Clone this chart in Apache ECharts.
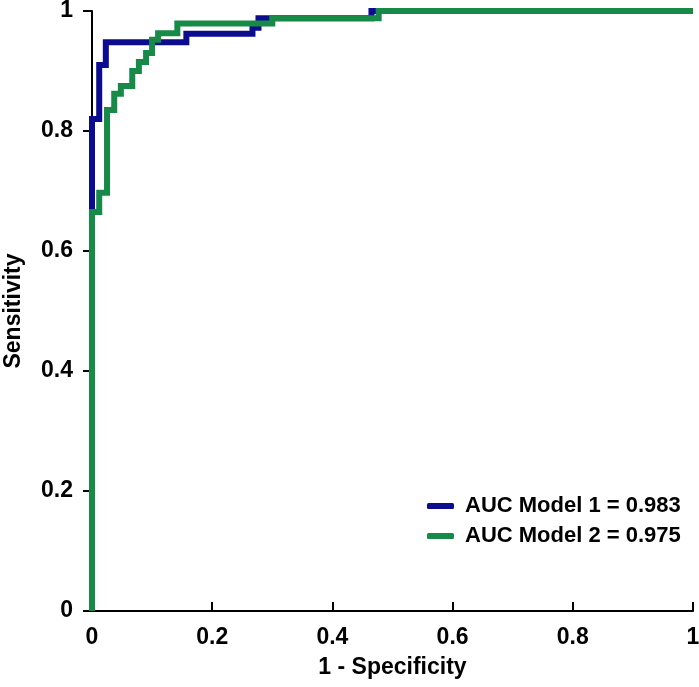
<!DOCTYPE html>
<html>
<head>
<meta charset="utf-8">
<script src="https://cdn.jsdelivr.net/npm/echarts@6/dist/echarts.min.js"></script>
<style>
  html, body { margin: 0; padding: 0; background: #fff; }
  #chart { width: 699px; height: 687px; }
</style>
</head>
<body>
<div id="chart"></div>
<script>
// ROC curve points (1 - specificity, sensitivity)
const model1Name = 'AUC Model 1 = 0.983'
const model1Fpr = [0, 0, 0.012, 0.023, 0.157, 0.267, 0.277, 0.465, 1]
const model1Tpr = [0, 0.82, 0.91, 0.948, 0.962, 0.972, 0.988, 1, 1]

const model2Name = 'AUC Model 2 = 0.975'
const model2Fpr = [0, 0, 0.012, 0.025, 0.037, 0.048, 0.067, 0.078, 0.09, 0.1, 0.11, 0.142, 0.3, 0.477, 1]
const model2Tpr = [0, 0.665, 0.697, 0.835, 0.862, 0.875, 0.9, 0.915, 0.93, 0.952, 0.963, 0.979, 0.988, 1, 1]

const axisTicks = [0, 0.2, 0.4, 0.6, 0.8, 1]

function pairs (xs, ys) {
  return xs.map((x, i) => [x, ys[i]])
}

const font = 'Liberation Sans, Arial, sans-serif'
const chart = echarts.init(document.getElementById('chart'))

const axisCommon = {
  type: 'value',
  min: axisTicks[0],
  max: axisTicks[axisTicks.length - 1],
  interval: 0.2,
  splitLine: { show: false },
  axisLine: { show: true, lineStyle: { color: '#000', width: 2 } },
  axisLabel: { color: '#000', fontSize: 23, fontWeight: 'bold', fontFamily: font },
  nameLocation: 'middle',
  nameTextStyle: { color: '#000', fontSize: 23, fontWeight: 'bold', fontFamily: font }
}

const option = {
  animation: false,
  backgroundColor: '#fff',
  grid: { left: 92, right: 6, top: 11, bottom: 76, outerBoundsMode: 'none' },
  legend: {
    orient: 'vertical',
    left: 427,
    top: 495,
    padding: 0,
    icon: 'roundRect',
    itemWidth: 27,
    itemHeight: 6,
    itemGap: 8,
    textStyle: {
      color: '#000', fontSize: 22, fontWeight: 'bold', fontFamily: font,
      lineHeight: 20, padding: [0, 0, 0, 6]
    },
    data: [model1Name, model2Name]
  },
  xAxis: Object.assign({}, axisCommon, {
    name: '1 - Specificity',
    nameGap: 45,
    axisTick: { show: true, inside: true, length: 9, lineStyle: { color: '#000', width: 2 } },
    axisLabel: Object.assign({}, axisCommon.axisLabel, { margin: 15 })
  }),
  yAxis: Object.assign({}, axisCommon, {
    name: 'Sensitivity',
    nameGap: 67,
    axisTick: { show: true, inside: false, length: 9, lineStyle: { color: '#000', width: 2 } },
    axisLabel: Object.assign({}, axisCommon.axisLabel, { margin: 19 })
  }),
  series: [
    {
      name: model1Name,
      type: 'line',
      step: 'end',
      clip: false,
      symbol: 'none',
      color: '#0c0c8e',
      lineStyle: { width: 6, color: '#0c0c8e', join: 'miter', cap: 'butt' },
      data: pairs(model1Fpr, model1Tpr)
    },
    {
      name: model2Name,
      type: 'line',
      step: 'end',
      clip: false,
      symbol: 'none',
      color: '#178a47',
      lineStyle: { width: 6, color: '#178a47', join: 'miter', cap: 'butt' },
      data: pairs(model2Fpr, model2Tpr)
    }
  ]
}

chart.setOption(option)
</script>
</body>
</html>
